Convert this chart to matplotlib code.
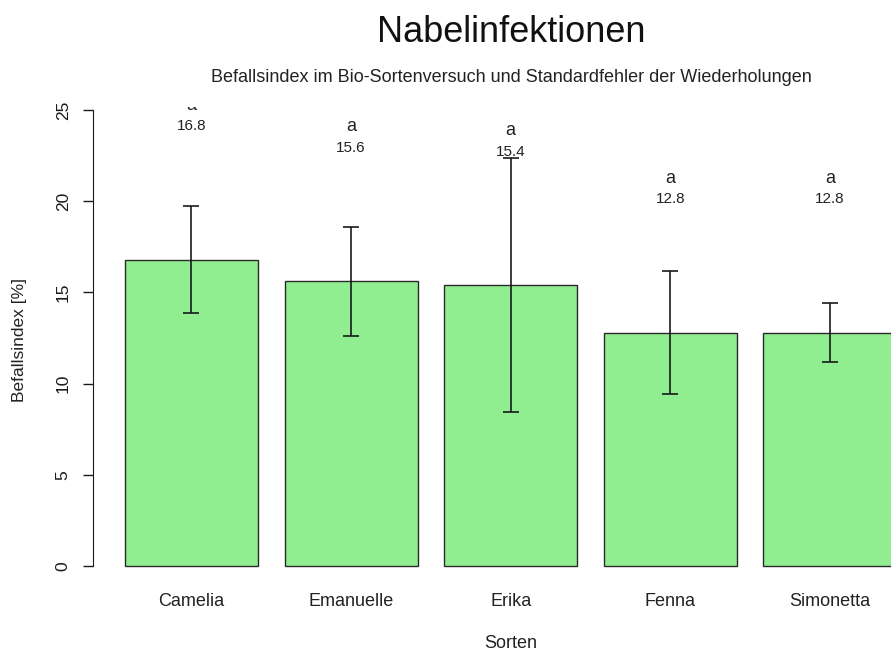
import matplotlib
matplotlib.use("Agg")
import matplotlib.pyplot as plt
import numpy as np

plt.rcParams['font.family'] = ['Liberation Sans', 'DejaVu Sans']

sorten = ["Camelia", "Emanuelle", "Erika", "Fenna", "Simonetta"]
befall = [16.8, 15.6, 15.4, 12.8, 12.8]
se = [2.95, 3.0, 6.95, 3.35, 1.63]
gruppen = ["a", "a", "a", "a", "a"]
yticks = [0, 5, 10, 15, 20, 25]

fig = plt.figure(figsize=(8.91, 6.5), dpi=100)
W, H = 891, 650
left_px, right_px = 93, 929
scale = 18.24
bot_px = 566 + 1.0 * scale
top_px = 107.0
ytop = (566 - top_px) / scale
ax = fig.add_axes([left_px / W, (H - bot_px) / H,
                   (right_px - left_px) / W, (bot_px - top_px) / H])

x = 0.7 + 1.2 * np.arange(len(sorten))
ax.bar(x, befall, width=1.0, color="#90EE90", edgecolor="#2a2a2a", linewidth=1.0, zorder=2)
ax.errorbar(x, befall, yerr=se, fmt="none", ecolor="#1a1a1a", elinewidth=1.2,
            capsize=6, capthick=1.2, zorder=3)

for xi, v, g in zip(x, befall, gruppen):
    ax.text(xi, v + 8.47, g, ha="center", va="center", fontsize=13, color="#222222",
            clip_on=True)
    ax.text(xi, v + 7.3, f"{v:.1f}", ha="center", va="center", fontsize=11, color="#222222",
            clip_on=True)

ax.set_xlim(-0.04, 6.245)
ax.set_ylim(-1.0, ytop)
for s in ["top", "right", "bottom"]:
    ax.spines[s].set_visible(False)
ax.spines["left"].set_bounds(0, 25)
ax.spines["left"].set_color("#1a1a1a")
ax.set_yticks(yticks)
ax.set_yticklabels([str(t) for t in yticks], rotation=90, va="center", fontsize=12.5, color="#222222")
ax.tick_params(axis="y", length=7, width=1, pad=9, colors="#1a1a1a")
ax.set_xticks(x)
ax.set_xticklabels(sorten, fontsize=13, color="#222222")
ax.tick_params(axis="x", length=0, pad=6)

fig.text(511 / W, 1 - 33 / H, "Nabelinfektionen", ha="center", va="center", fontsize=26, color="#111111")
fig.text(511 / W, 1 - 78 / H, "Befallsindex im Bio-Sortenversuch und Standardfehler der Wiederholungen",
         ha="center", va="center", fontsize=13, color="#222222")
fig.text(511 / W, 1 - 643 / H, "Sorten", ha="center", va="center", fontsize=13, color="#222222")
fig.text(20 / W, 1 - 340 / H, "Befallsindex [%]", ha="center", va="center", rotation=90,
         fontsize=12.5, color="#222222")

fig.savefig("out.png", dpi=100)
